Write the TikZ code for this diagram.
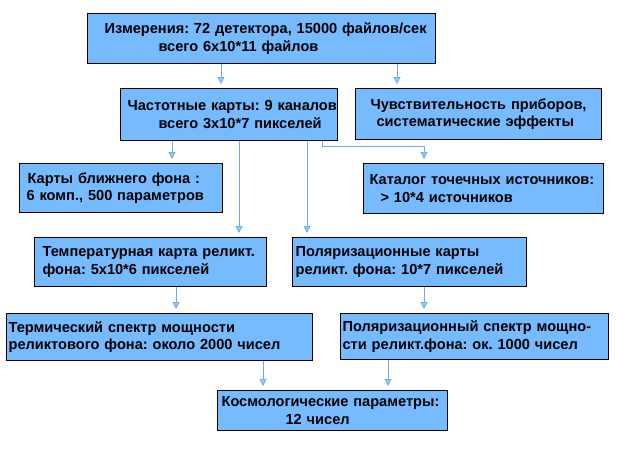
\documentclass[tikz,border=0pt]{standalone}
\usepackage{fontspec}
\setmainfont{Liberation Sans}
\usetikzlibrary{arrows.meta}
\definecolor{boxfill}{RGB}{118,186,255}
\definecolor{linkc}{RGB}{105,175,238}
\definecolor{tipfill}{RGB}{150,205,255}
\newcommand\tline[2]{\hspace*{#1pt}\makebox[0pt][l]{#2}}
\begin{document}
\begin{tikzpicture}[x=1pt,y=-1pt,
  bx/.style={draw=black,line width=1.2pt,fill=boxfill,anchor=north west,
    align=left,inner xsep=0pt,inner ysep=0pt,
    font=\bfseries\fontsize{14.6}{17.5}\selectfont\frenchspacing},
  link/.style={draw=linkc,line width=0.9pt,shorten >=4pt,
    -{Triangle[width=7pt,length=7pt,fill=tipfill]}}]
\useasboundingbox (0,0) rectangle (618,448);
\newcommand\mkbox[6]{%
  \node[bx,text width=#4,minimum height=#5] (#1) at (#2,#3) {#6};}
\mkbox{b1}{87}{13}{348}{50}{\tline{17}{Измерения: 72 детектора, 15000 файлов/сек}\\\tline{71}{всего 6x10*11 файлов}}
\mkbox{b2}{120}{88}{217}{52}{\tline{7}{Частотные карты: 9 каналов}\\\tline{38}{всего 3x10*7 пикселей}}
\mkbox{b3}{355}{88}{246}{51}{\tline{15}{Чувствительность приборов,}\\\tline{21}{систематические эффекты}}
\mkbox{b4}{19}{163}{203}{49}{\tline{8}{Карты ближнего фона :}\\\tline{7}{6 комп., 500 параметров}}
\mkbox{b5}{363}{163}{240}{50}{\tline{6}{Каталог точечных источников:}\\\tline{17}{> 10*4 источников}}
\mkbox{b6}{34}{237}{232}{49}{\tline{8}{Температурная карта реликт.}\\\tline{8}{фона: 5x10*6 пикселей}}
\mkbox{b7}{292}{237}{234}{49}{\tline{3}{Поляризационные карты}\\\tline{3}{реликт. фона: 10*7 пикселей}}
\mkbox{b8}{6}{313}{306}{47}{\tline{2}{Термический спектр мощности}\\\tline{2}{реликтового фона: около 2000 чисел}}
\mkbox{b9}{340}{313}{268}{46}{\tline{2}{Поляризационный спектр мощно-}\\\tline{2}{сти реликт.фона: ок. 1000 чисел}}
\mkbox{b10}{217}{390}{230}{40}{\tline{4}{Космологические параметры:}\\\tline{68}{12 чисел}}
\draw[link] (b1.south -| 221,0) -- (b2.north -| 221,0);
\draw[link] (b1.south -| 397,0) -- (b3.north -| 397,0);
\draw[link] (b2.south -| 172,0) -- (b4.north -| 172,0);
\draw[link] (b2.south -| 239,0) -- (b6.north -| 239,0);
\draw[link] (b2.south -| 307,0) -- (b7.north -| 307,0);
\draw[link] (b2.south -| 322,0) |- (424,146) -- (b5.north -| 424,0);
\draw[link] (b6.south -| 176,0) -- (b8.north -| 176,0);
\draw[link] (b7.south -| 424,0) -- (b9.north -| 424,0);
\draw[link] (b8.south -| 263,0) -- (b10.north -| 263,0);
\draw[link] (b9.south -| 388,0) -- (b10.north -| 388,0);
\end{tikzpicture}
\end{document}
